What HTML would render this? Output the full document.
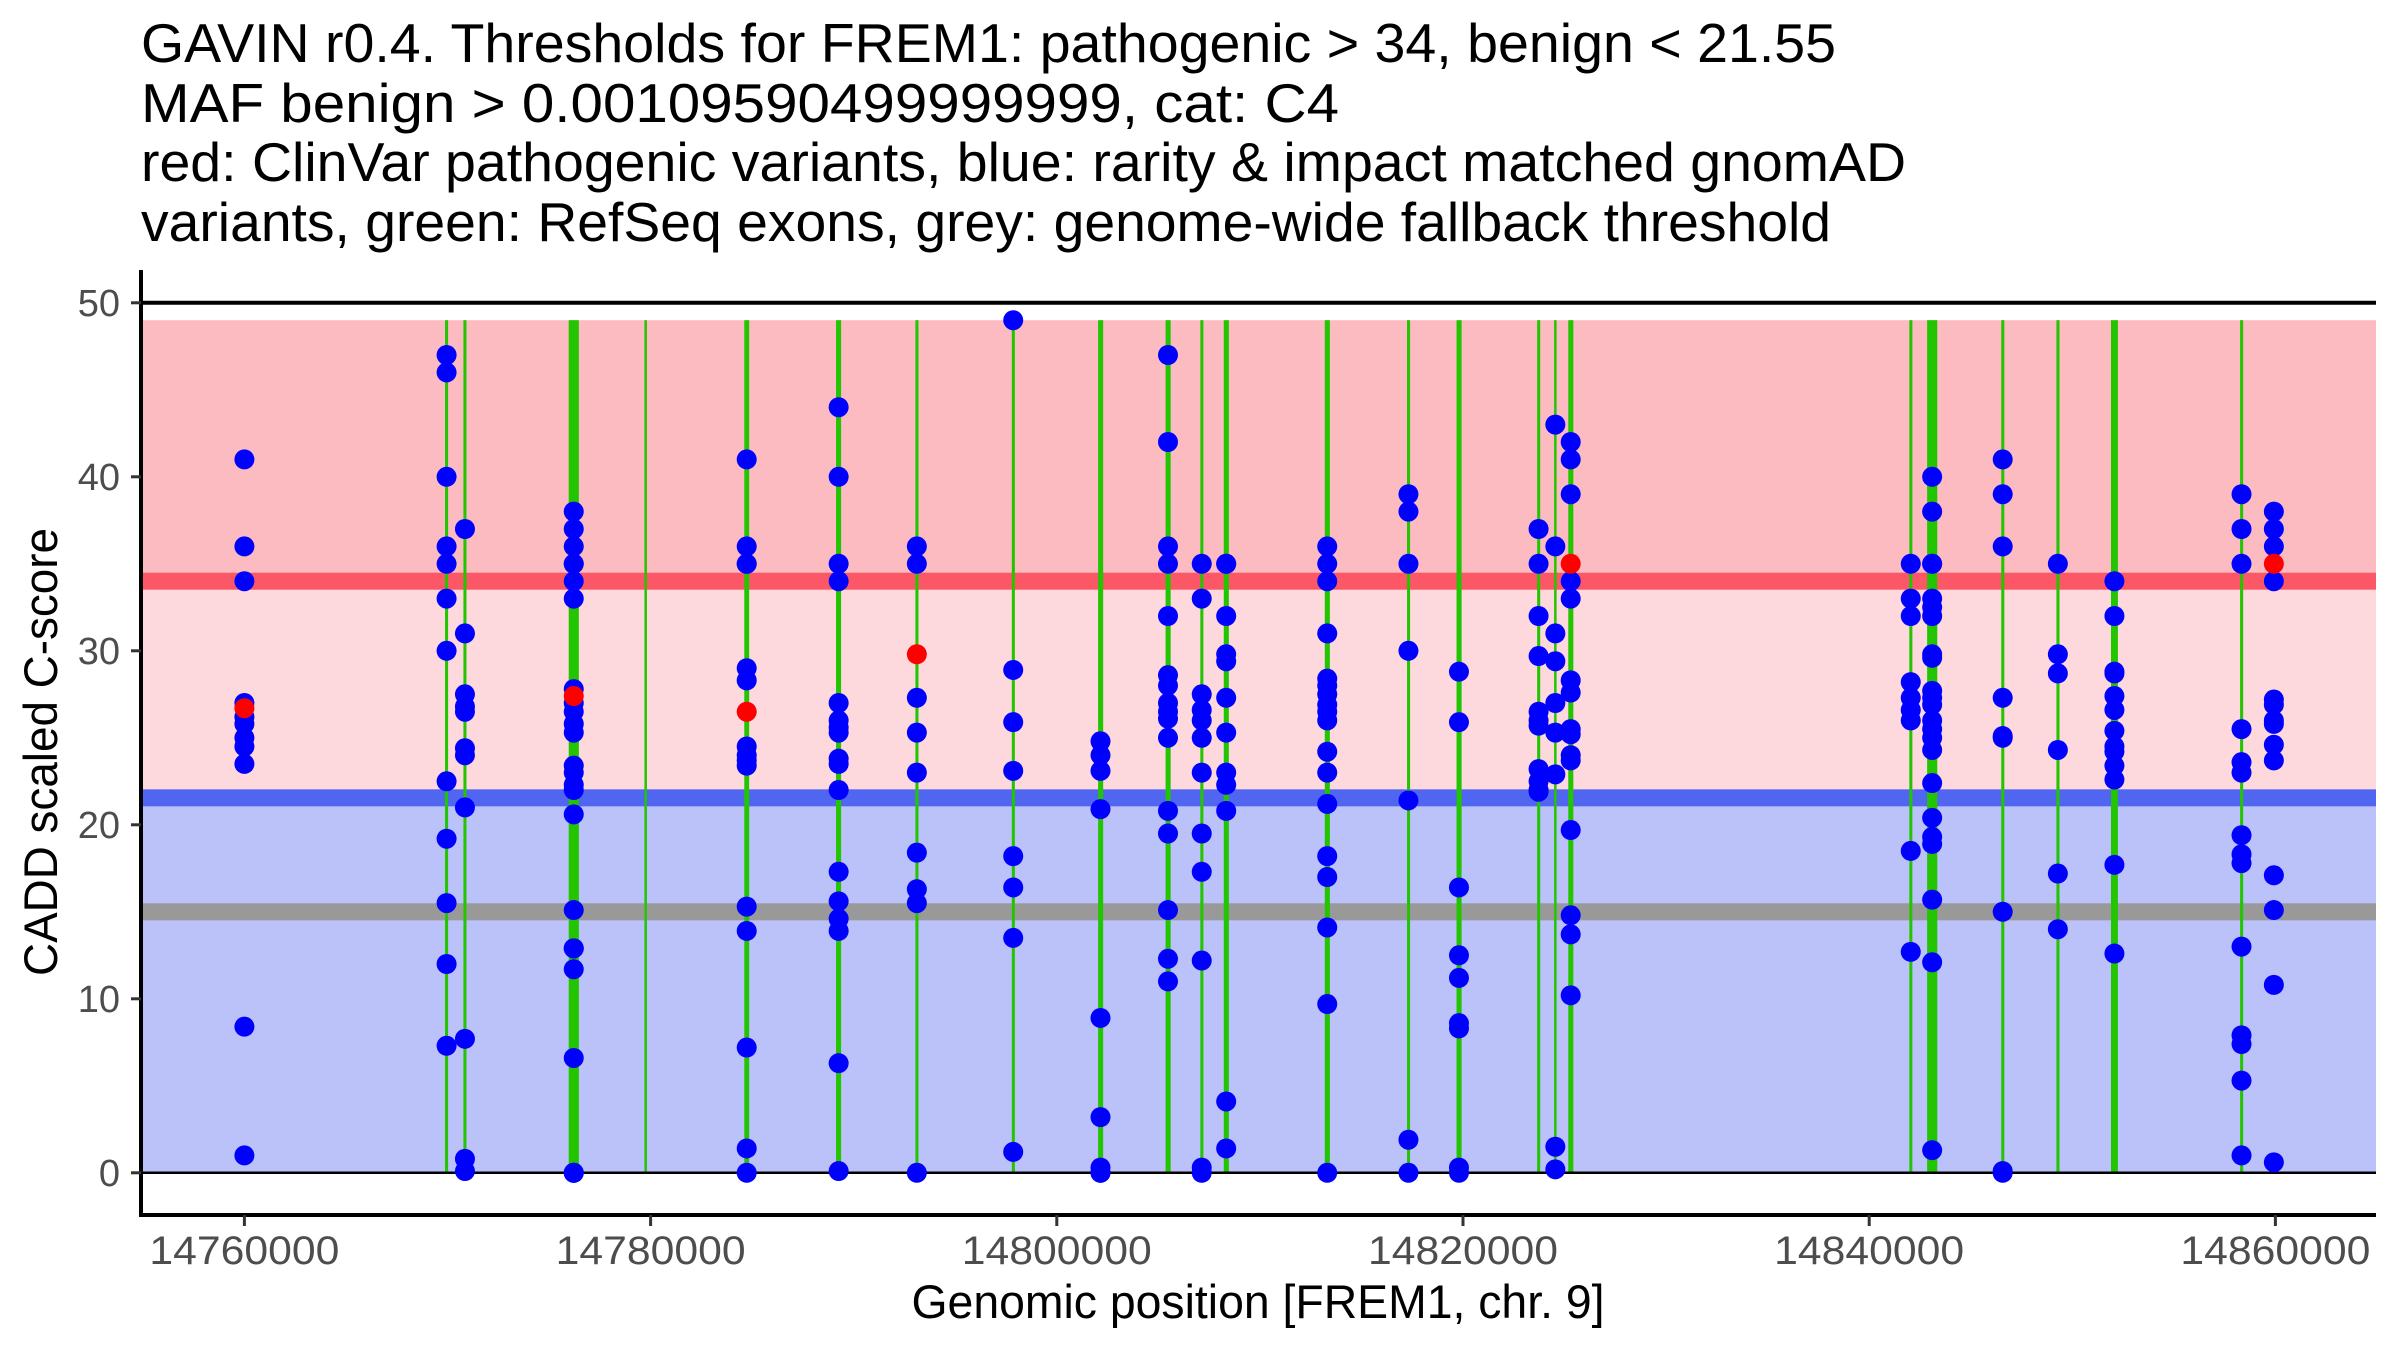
<!DOCTYPE html>
<html><head><meta charset="utf-8"><title>GAVIN FREM1</title>
<style>
html,body{margin:0;padding:0;background:#fff;}
svg{display:block;font-family:"Liberation Sans",Arial,sans-serif;}
</style></head>
<body>
<svg id="chart" width="2400" height="1350" viewBox="0 0 2400 1350" xmlns="http://www.w3.org/2000/svg">
<g font-size="55" fill="#000">
<text x="141" y="62" textLength="1695" lengthAdjust="spacingAndGlyphs">GAVIN r0.4. Thresholds for FREM1: pathogenic &gt; 34, benign &lt; 21.55</text>
<text x="141" y="122" textLength="1198" lengthAdjust="spacingAndGlyphs">MAF benign &gt; 0.00109590499999999, cat: C4</text>
<text x="141" y="181" textLength="1765" lengthAdjust="spacingAndGlyphs">red: ClinVar pathogenic variants, blue: rarity &amp; impact matched gnomAD</text>
<text x="141" y="241" textLength="1690" lengthAdjust="spacingAndGlyphs">variants, green: RefSeq exons, grey: genome-wide fallback threshold</text>
</g>
<g id="plot"></g>
<text x="1258" y="1318" font-size="47" text-anchor="middle" textLength="693" lengthAdjust="spacingAndGlyphs">Genomic position [FREM1, chr. 9]</text>
<text transform="translate(57,752) rotate(-90)" font-size="47" text-anchor="middle" textLength="448" lengthAdjust="spacingAndGlyphs">CADD scaled C-score</text>
</svg>
<script>
const xTicks = [14760000, 14780000, 14800000, 14820000, 14840000, 14860000];
const yTicks = [0, 10, 20, 30, 40, 50];
const pathogenicThreshold = 34;
const benignThreshold = 21.55;
const fallbackThreshold = 15;
const bandTop = 49;
const exonStart = [14769879,14770784,14775968,14779698,14784613,14789130,14793039,14797785,14802033,14805356,14807067,14808221,14813195,14817244,14819682,14823651,14824497,14825183,14841976,14842852,14846503,14849219,14851905,14858262];
const exonEnd   = [14770029,14770934,14776468,14779818,14784853,14789380,14793189,14797935,14802283,14805606,14807217,14808471,14813445,14817394,14819932,14823801,14824597,14825433,14842126,14843352,14846653,14849369,14852245,14858412];
const gnomadPos = [14760000,14769955,14770859,14776216,14784732,14789259,14793109,14797854,14802152,14805475,14807136,14808340,14813315,14817314,14819801,14823721,14824546,14825303,14842046,14843100,14846573,14849289,14852074,14858332,14859924];
const gnomadScores = [
 [41,36,34,27,26.2,25.8,25,24.5,23.5,8.4,1.0],
 [47,46,40,36,35,33,30,22.5,19.2,15.5,12,7.3],
 [37,31,27.5,26.5,26.8,24.4,24,21,7.7,0.8,0.1],
 [38,37,36,35,35,34,33,27.8,27,26.5,25.8,25.3,23.4,23,22.3,22,20.6,15.1,12.9,12.9,11.7,6.6,0,0,0],
 [41,36,35,35,29,28.3,24.5,24,23.7,23.4,15.3,13.9,7.2,1.4,0],
 [44,40,35,34,27,26,25.6,25.3,23.8,23.5,22,17.3,15.6,14.6,13.9,6.3,0.1],
 [36,35,27.3,25.3,23,18.4,16.3,15.5,0],
 [49,28.9,25.9,23.1,18.2,16.4,13.5,1.2],
 [24.8,24,23.1,20.9,8.9,3.2,0.3,0,0],
 [47,42,36,35,32,28.6,28,27,26.5,26.1,25,20.8,19.5,15.1,12.3,11],
 [35,33,27.5,26.6,26,25,23,19.5,17.3,12.2,0.3,0],
 [35,35,32,29.8,29.4,27.3,25.3,23,22.3,20.8,4.1,1.4],
 [36,35,34,31,28.4,28,27.5,26.9,26.5,26,24.2,23,21.2,18.2,17,14.1,9.7,0],
 [39,38,35,30,21.4,1.9,0],
 [28.8,25.9,16.4,12.5,11.2,8.6,8.3,0.3,0],
 [37,35,32,29.7,26.5,26,25.7,23.2,22.5,22,21.9],
 [43,36,31,29.4,27,25.3,22.9,1.5,0.2],
 [42,41,39,34,33,28.3,27.6,25.5,25.2,24,23.7,19.7,14.8,13.7,10.2],
 [35,33,32,28.2,27.3,26.6,26,18.5,12.7],
 [40,38,35,35,33,32.5,32,29.8,29.6,27.7,27.3,26.9,26,25.5,25,24.3,22.4,20.4,19.3,18.9,15.7,12.1,1.3],
 [41,39,36,27.3,25.1,25,15,0,0.1],
 [35,29.8,28.7,24.3,17.2,14],
 [34,32,28.8,28.7,27.4,26.6,25.4,24.5,24.2,23.4,22.6,17.7,12.6],
 [39,37,35,25.5,23.6,23,19.4,18.3,17.8,13,7.9,7.4,5.3,1.0],
 [38,37,36,34,27.2,26.9,26,25.8,24.6,23.7,17.1,15.1,10.8,0.6]
];
const clinvarPos = [14760000,14776216,14784732,14793109,14825303,14859924];
const clinvarScores = [26.7,27.4,26.5,29.8,35,35];

const NS = 'http://www.w3.org/2000/svg';
const L = 141, R = 2376, axisY = 1215;
function xs(g){ return 244.4 + (g - 14760000) * 0.02031; }
function ys(v){ return 1172.8 - 17.4 * v; }
const plot = document.getElementById('plot');
function mk(tag, attrs){ const e = document.createElementNS(NS, tag); for (const k in attrs) e.setAttribute(k, attrs[k]); plot.appendChild(e); return e; }

let e;
e = mk('rect', {x:L, y:ys(bandTop), width:R-L, height:ys(pathogenicThreshold)-ys(bandTop), fill:'#fcbbc0'});


e = mk('rect', {x:L, y:ys(pathogenicThreshold), width:R-L, height:ys(benignThreshold)-ys(pathogenicThreshold), fill:'#fdd8dc'});


e = mk('rect', {x:L, y:ys(benignThreshold), width:R-L, height:ys(0)-ys(benignThreshold), fill:'#bbc1f9'});


e = mk('rect', {x:L, y:ys(pathogenicThreshold)-8.5, width:R-L, height:17, fill:'#fc5766'});


e = mk('rect', {x:L, y:ys(benignThreshold)-8.5, width:R-L, height:17, fill:'#5066f0'});


e = mk('rect', {x:L, y:ys(fallbackThreshold)-8.5, width:R-L, height:17, fill:'#999999'});



for (let i = 0; i < exonStart.length; i++) {
  const x0 = xs(exonStart[i]), x1 = xs(exonEnd[i]);
  const w = Math.max(2.5, x1 - x0);
  e = mk('rect', {x:(x0+x1)/2 - w/2, y:ys(bandTop), width:w, height:ys(0)-ys(bandTop), fill:'#22c500'});
  
  
}
e = mk('line', {x1:L, x2:R, y1:ys(50), y2:ys(50), stroke:'#000', 'stroke-width':4});


e = mk('line', {x1:L, x2:R, y1:ys(0), y2:ys(0), stroke:'#000', 'stroke-width':2.5});



for (let i = 0; i < gnomadPos.length; i++) {
  for (const s of gnomadScores[i]) {
    e = mk('circle', {cx:xs(gnomadPos[i]), cy:ys(s), r:10, fill:'#0000ff'});
    
    
  }
}
for (let i = 0; i < clinvarPos.length; i++) {
  e = mk('circle', {cx:xs(clinvarPos[i]), cy:ys(clinvarScores[i]), r:10, fill:'#ff0000'});
  
  
}

e = mk('line', {x1:L, x2:L, y1:270, y2:axisY+2, stroke:'#000', 'stroke-width':4});


e = mk('line', {x1:L-2, x2:R, y1:axisY, y2:axisY, stroke:'#000', 'stroke-width':4});



for (const t of yTicks) {
  e = mk('line', {x1:L-10, x2:L, y1:ys(t), y2:ys(t), stroke:'#333', 'stroke-width':3});
  
  
  e = mk('text', {x:120, y:ys(t)+13, 'font-size':38, fill:'#4d4d4d', 'text-anchor':'end'});
  e.textContent = String(t);
  
  
}
for (const t of xTicks) {
  e = mk('line', {x1:xs(t), x2:xs(t), y1:axisY, y2:axisY+11, stroke:'#333', 'stroke-width':3});
  
  
  e = mk('text', {x:xs(t), y:1264, 'font-size':40, fill:'#4d4d4d', 'text-anchor':'middle', textLength:190, lengthAdjust:'spacingAndGlyphs'});
  e.textContent = String(t);
  
  
}
</script>
</body></html>
